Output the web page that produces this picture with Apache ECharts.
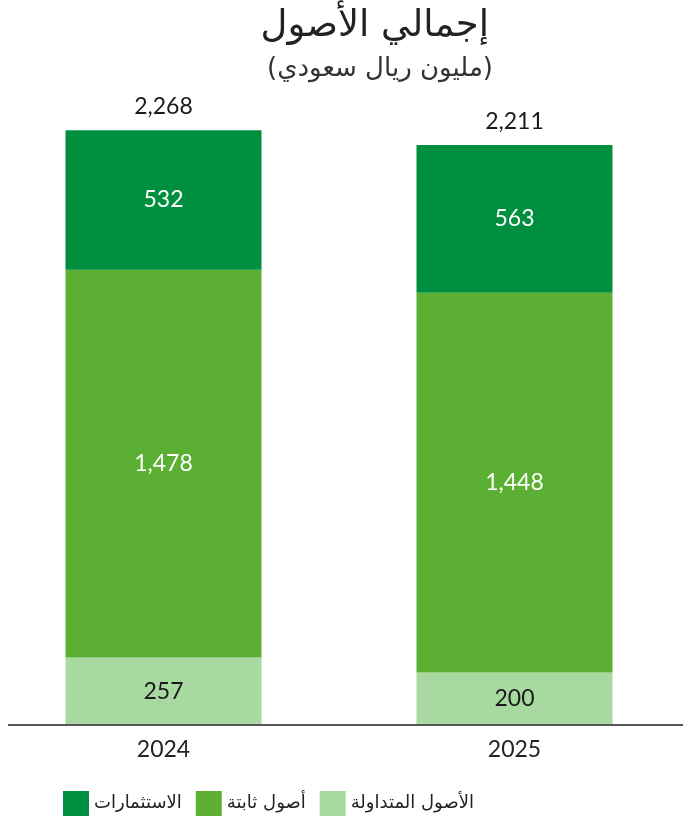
<!DOCTYPE html>
<html><head><meta charset="utf-8">
<script src="https://cdn.jsdelivr.net/npm/echarts@6/dist/echarts.min.js"></script>
<style>html,body{margin:0;padding:0;background:#fff}#c{width:683px;height:826px}</style>
</head><body><div id="c"></div>
<script>
const categories = ['2024', '2025'];
const currentAssets = [257, 200];
const fixedAssets = [1478, 1448];
const investments = [532, 563];
const totals = [2268, 2211];
const seriesNames = ['الأصول المتداولة', 'أصول ثابتة', 'الاستثمارات'];
const titleText = 'إجمالي الأصول';
const subtitleText = '(مليون ريال سعودي)';

const numFont = 'Lato, "Open Sans", sans-serif';
const arFont = '"DejaVu Sans", sans-serif';
const fmt = v => v.toLocaleString('en-US');

const chart = echarts.init(document.getElementById('c'));
chart.setOption({
  animation: false,
  backgroundColor: '#fff',
  graphic: [
    {type: 'text', right: 194, top: 8, style: {text: titleText, font: '37px ' + arFont, fill: '#222'}},
    {type: 'text', right: 190, top: 56, style: {text: subtitleText, font: '26px ' + arFont, fill: '#333'}},
    {type: 'line', shape: {x1: 8, y1: 725, x2: 683, y2: 725}, style: {stroke: '#555', lineWidth: 2}, z: 100}
  ],
  legend: {
    left: 58, top: 786,
    data: [seriesNames[2], seriesNames[1], seriesNames[0]],
    itemWidth: 26, itemHeight: 25, itemGap: 14,
    textStyle: {fontFamily: arFont, fontSize: 18, color: '#222'},
    icon: 'rect'
  },
  grid: {left: -12, width: 702, top: 130, height: 595, outerBoundsMode: 'none', containLabel: false},
  xAxis: {
    type: 'category', data: categories,
    axisLine: {show: false}, axisTick: {show: false},
    axisLabel: {fontFamily: numFont, fontSize: 23, color: '#222', margin: 13}
  },
  yAxis: {type: 'value', min: 0, max: 2268, show: false, splitLine: {show: false}},
  series: [
    {name: seriesNames[0], type: 'bar', stack: 't', data: currentAssets, barWidth: 196,
     itemStyle: {color: '#A8D9A0'},
     label: {show: true, position: 'inside', formatter: p => fmt(p.value), fontFamily: numFont, fontSize: 23, color: '#1a1a1a'}},
    {name: seriesNames[1], type: 'bar', stack: 't', data: fixedAssets, barWidth: 196,
     itemStyle: {color: '#5BAF33'},
     label: {show: true, position: 'inside', formatter: p => fmt(p.value), fontFamily: numFont, fontSize: 23, color: '#fff'}},
    {name: seriesNames[2], type: 'bar', stack: 't', data: investments, barWidth: 196,
     itemStyle: {color: '#008F3F'},
     label: {show: true, position: 'inside', formatter: p => fmt(p.value), fontFamily: numFont, fontSize: 23, color: '#fff'}},
    {name: 'total', type: 'line', data: totals, symbol: 'circle', symbolSize: 2, showSymbol: true, clip: false,
     itemStyle: {color: 'rgba(0,0,0,0)'}, lineStyle: {width: 0, color: 'rgba(0,0,0,0)'}, silent: true,
     label: {show: true, position: 'top', distance: 11, formatter: p => fmt(p.value), fontFamily: numFont, fontSize: 23, color: '#1a1a1a', opacity: 1}}
  ]
});
</script></body></html>
